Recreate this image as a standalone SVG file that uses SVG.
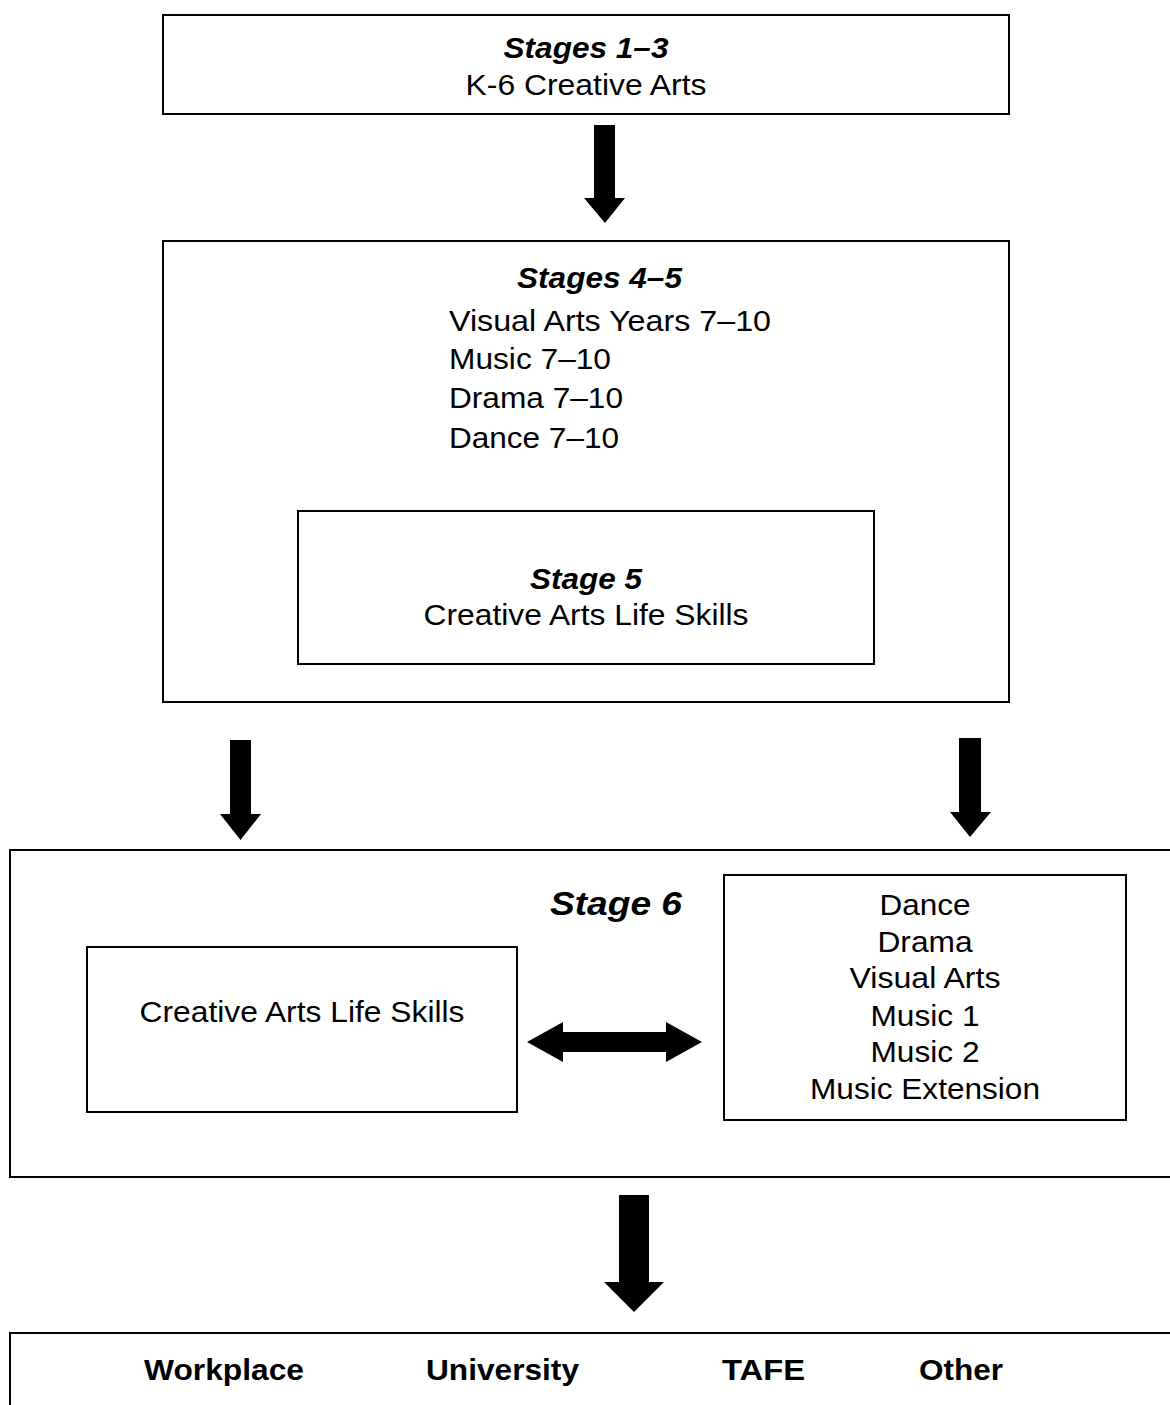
<svg xmlns="http://www.w3.org/2000/svg" width="1170" height="1405" viewBox="0 0 1170 1405">
<style>
.box{fill:#fff;stroke:#000;stroke-width:2}
.arrow{fill:#000;stroke:none}
text{font-family:"Liberation Sans",Arial,sans-serif;font-size:29px;fill:#000}
.t{text-anchor:middle}
.h{font-weight:bold;font-style:italic}
.b{font-weight:bold}
</style>
<rect width="1170" height="1405" fill="#fff"/>
<g id="stages1-3">
<rect class="box" x="163" y="15" width="846" height="99"/>
<text class="t h" x="586" y="58" textLength="165" lengthAdjust="spacingAndGlyphs">Stages 1–3</text>
<text class="t" x="586" y="95" textLength="241" lengthAdjust="spacingAndGlyphs">K-6 Creative Arts</text>
</g>
<g id="stages4-5">
<rect class="box" x="163" y="241" width="846" height="461"/>
<text class="h" x="517" y="288" textLength="165" lengthAdjust="spacingAndGlyphs">Stages 4–5</text>
<text x="449" y="331" textLength="322" lengthAdjust="spacingAndGlyphs">Visual Arts Years 7–10</text>
<text x="449" y="369" textLength="162" lengthAdjust="spacingAndGlyphs">Music 7–10</text>
<text x="449" y="408" textLength="174" lengthAdjust="spacingAndGlyphs">Drama 7–10</text>
<text x="449" y="448" textLength="170" lengthAdjust="spacingAndGlyphs">Dance 7–10</text>
</g>
<g id="stage5">
<rect class="box" x="298" y="511" width="576" height="153"/>
<text class="t h" x="586" y="589" textLength="112" lengthAdjust="spacingAndGlyphs">Stage 5</text>
<text class="t" x="586" y="625" textLength="325" lengthAdjust="spacingAndGlyphs">Creative Arts Life Skills</text>
</g>
<g id="stage6">
<rect class="box" x="10" y="850" width="1170" height="327"/>
<text class="h" x="550" y="915" style="font-size:34px" textLength="132" lengthAdjust="spacingAndGlyphs">Stage 6</text>
</g>
<g id="stage6-lifeskills">
<rect class="box" x="87" y="947" width="430" height="165"/>
<text class="t" x="302" y="1022" textLength="325" lengthAdjust="spacingAndGlyphs">Creative Arts Life Skills</text>
</g>
<g id="stage6-courses">
<rect class="box" x="724" y="875" width="402" height="245"/>
<text class="t" x="925" y="915" textLength="91" lengthAdjust="spacingAndGlyphs">Dance</text>
<text class="t" x="925" y="952" textLength="95" lengthAdjust="spacingAndGlyphs">Drama</text>
<text class="t" x="925" y="988" textLength="151" lengthAdjust="spacingAndGlyphs">Visual Arts</text>
<text class="t" x="925" y="1026" textLength="109" lengthAdjust="spacingAndGlyphs">Music 1</text>
<text class="t" x="925" y="1062" textLength="109" lengthAdjust="spacingAndGlyphs">Music 2</text>
<text class="t" x="925" y="1099" textLength="230" lengthAdjust="spacingAndGlyphs">Music Extension</text>
</g>
<g id="destinations">
<rect class="box" x="10" y="1333" width="1170" height="90"/>
<text class="b" x="144" y="1380" textLength="160" lengthAdjust="spacingAndGlyphs">Workplace</text>
<text class="b" x="426" y="1380" textLength="153" lengthAdjust="spacingAndGlyphs">University</text>
<text class="b" x="722" y="1380" textLength="83" lengthAdjust="spacingAndGlyphs">TAFE</text>
<text class="b" x="919" y="1380" textLength="84" lengthAdjust="spacingAndGlyphs">Other</text>
</g>
<g id="connectors">
<polygon class="arrow" points="594,125 615,125 615,198 625,198 605,223 584,198 594,198"/>
<polygon class="arrow" points="230,740 251,740 251,814 261,814 240.5,840 220,814 230,814"/>
<polygon class="arrow" points="959,738 981,738 981,812 991,812 970,837 950,812 959,812"/>
<polygon class="arrow" points="619,1195 649,1195 649,1282 664,1282 634,1312 604,1282 619,1282"/>
<polygon class="arrow" points="527,1042 563,1022 563,1032 666,1032 666,1022 702,1042 666,1062 666,1052 563,1052 563,1062"/>
</g>
</svg>
